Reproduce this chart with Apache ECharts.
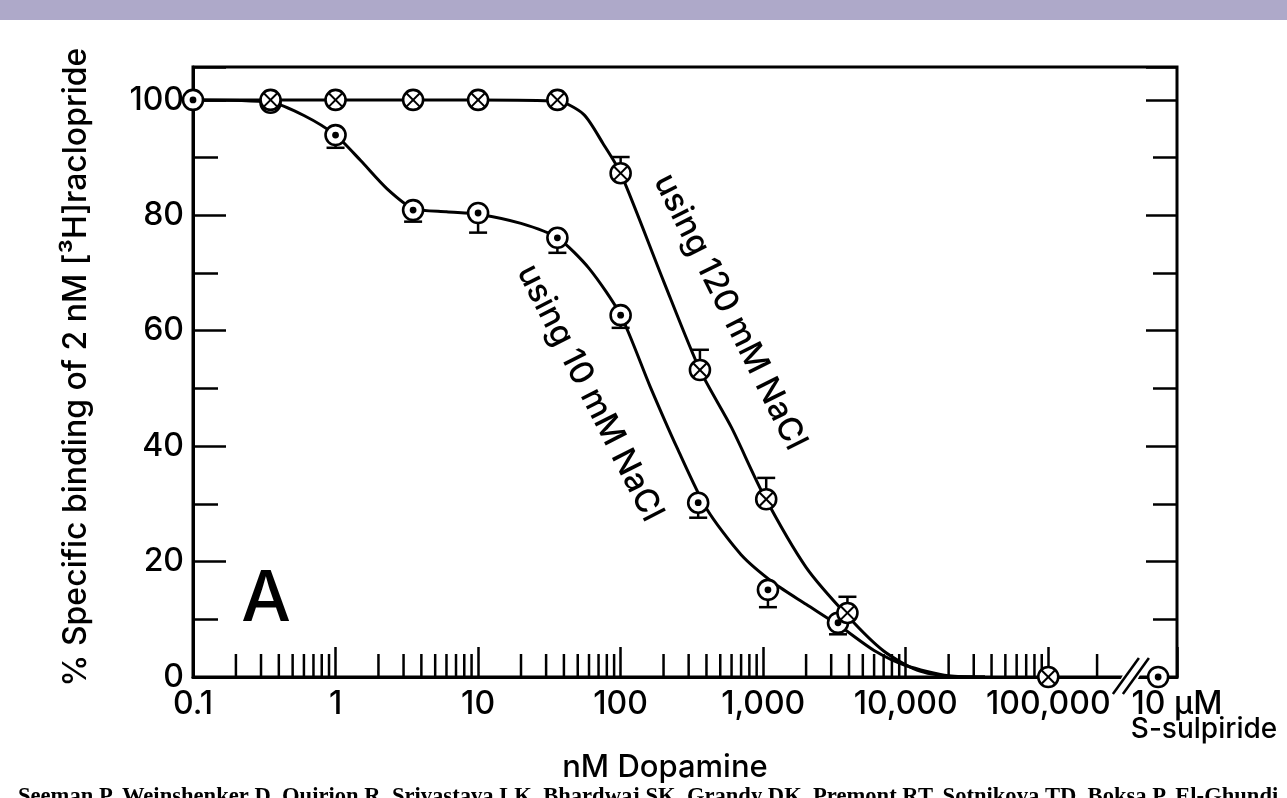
<!DOCTYPE html>
<html><head><meta charset="utf-8">
<script src="https://cdn.jsdelivr.net/npm/echarts@6/dist/echarts.min.js"></script>
<style>html,body{margin:0;padding:0;background:#fff;overflow:hidden}#c{width:1287px;height:798px}</style>
</head><body><div id="c"></div>
<script>
// ---- tick labels ----
const xTickValues = [0.1, 1, 10, 100, 1000, 10000, 100000];
const xTickLabels = ['0.1', '1', '10', '100', '1,000', '10,000', '100,000'];
const sulpirideTickLabel = '10 µM';
const yTickValues = [0, 20, 40, 60, 80, 100];
const xExtraMinorTicks = [220000];

// ---- measured points (nM dopamine, % specific binding) ----
const na120X = [0.35, 1, 3.5, 10, 36, 100, 360, 1050, 3900, 100000];
const na120Y = [100, 100, 100, 100, 100, 87.3, 53.2, 30.8, 11.1, 0];
const na120ErrUp = [0, 0, 0, 0, 0, 2.8, 3.5, 3.7, 2.8, 0];

const na10X = [0.1, 0.35, 1, 3.5, 10, 36, 100, 350, 1080, 3350];
const na10Y = [100, 99.5, 93.9, 80.9, 80.4, 76.1, 62.7, 30.2, 15.1, 9.4];
const na10ErrDown = [0, 0, 2.2, 2.0, 3.4, 2.6, 2.2, 2.6, 3.0, 2.0];

const sulpirideX = [590000];
const sulpirideY = [0];

// ---- fitted curves ----
const fit120X = [0.1, 1, 10, 36, 55, 75, 100, 200, 360, 600, 1000, 2000, 4000, 7000, 12000, 20000, 36000];
const fit120Y = [100, 100, 100, 99.8, 97.5, 92.5, 87.3, 68.6, 53.2, 43.2, 31.7, 19, 10.3, 4.5, 1.2, 0.1, 0];
const fit10X = [0.1, 0.35, 0.6, 1, 1.5, 2.3, 3.5, 6, 10, 20, 36, 60, 100, 160, 250, 400, 700, 1200, 2000, 3500, 6000, 10000, 20000, 36000];
const fit10Y = [100, 99.6, 97.3, 93.9, 89.5, 84.6, 81.2, 80.6, 80.2, 78.6, 76.1, 70.8, 62.7, 50.5, 39.6, 29.2, 21.2, 16.2, 12.6, 8.7, 4.6, 2, 0.2, 0];

const breakAt = [380000];

// ---- build ----
const FONT = 'Inter';
const FW = 500;
const xMinorTicks = [];
for (let k = -1; k <= 4; k++) for (let m = 2; m <= 9; m++) xMinorTicks.push(+(m * Math.pow(10, k)).toPrecision(3));
xExtraMinorTicks.forEach(v => xMinorTicks.push(v));

function zip(xs, ys) { return xs.map((x, i) => [x, ys[i]]); }

function markerSeries(name, xs, ys, kind) {
  return {
    type: 'custom', name, xAxisIndex: 0, yAxisIndex: 0, clip: false, z: 6,
    data: zip(xs, ys),
    renderItem(params, api) {
      const p = api.coord([api.value(0), api.value(1)]);
      const r = 10;
      const ch = [{ type: 'circle', shape: { cx: p[0], cy: p[1], r }, style: { fill: '#fff', stroke: '#000', lineWidth: 2.6 } }];
      if (kind === 'dot') {
        ch.push({ type: 'circle', shape: { cx: p[0], cy: p[1], r: 3.4 }, style: { fill: '#000' } });
      } else {
        const d = r * 0.72;
        ch.push({ type: 'line', shape: { x1: p[0] - d, y1: p[1] - d, x2: p[0] + d, y2: p[1] + d }, style: { stroke: '#000', lineWidth: 2 } });
        ch.push({ type: 'line', shape: { x1: p[0] - d, y1: p[1] + d, x2: p[0] + d, y2: p[1] - d }, style: { stroke: '#000', lineWidth: 2 } });
      }
      return { type: 'group', children: ch };
    }
  };
}

function errorSeries(xs, ys, errs, dir) {
  const data = [];
  xs.forEach((x, i) => { if (errs[i] > 0) data.push([x, ys[i], ys[i] + dir * errs[i]]); });
  return {
    type: 'custom', xAxisIndex: 0, yAxisIndex: 0, clip: false, z: 5, data,
    renderItem(params, api) {
      const a = api.coord([api.value(0), api.value(1)]);
      const b = api.coord([api.value(0), api.value(2)]);
      const w = 9;
      return { type: 'group', children: [
        { type: 'line', shape: { x1: a[0], y1: a[1], x2: b[0], y2: b[1] }, style: { stroke: '#000', lineWidth: 2.5 } },
        { type: 'line', shape: { x1: b[0] - w, y1: b[1], x2: b[0] + w, y2: b[1] }, style: { stroke: '#000', lineWidth: 2.5 } }
      ] };
    }
  };
}

function curveSeries(name, xs, ys) {
  return {
    type: 'line', name, xAxisIndex: 0, yAxisIndex: 0, data: zip(xs, ys), smooth: 0.25,
    showSymbol: false, symbol: 'none', clip: false, z: 4,
    lineStyle: { color: '#000', width: 3 }
  };
}

function yAxisDef(pos, interval, len, labels) {
  return {
    type: 'value', position: pos, min: 0, max: 105.7, interval,
    axisLine: { show: labels, lineStyle: { color: '#000', width: 3 } },
    axisTick: { show: true, inside: true, length: len, lineStyle: { color: '#000', width: 2.5 } },
    splitLine: { show: false },
    axisLabel: {
      show: labels, margin: 9, color: '#000', fontFamily: FONT, fontWeight: FW, fontSize: 32,
      formatter: v => (yTickValues.indexOf(Math.round(v * 1000) / 1000) >= 0 ? String(v) : '')
    }
  };
}

const chart = echarts.init(document.getElementById('c'));
chart.setOption({
  animation: false,
  backgroundColor: '#fff',
  grid: { left: 193, right: 110, top: 67, bottom: 121, show: true, borderColor: '#000', borderWidth: 3, backgroundColor: 'transparent' },
  xAxis: [{
    type: 'log', logBase: 10, min: 0.1, max: 800000,
    axisLine: { show: true, lineStyle: { color: '#000', width: 3 } },
    axisTick: { show: true, inside: true, length: 30, lineStyle: { color: '#000', width: 2.5 } },
    minorTick: { show: false },
    splitLine: { show: false },
    axisLabel: {
      show: true, showMinLabel: true, showMaxLabel: true, margin: 11, color: '#000', fontFamily: FONT, fontWeight: FW, fontSize: 32,
      formatter: function (v) {
        if (v > 200000) return sulpirideTickLabel;
        const lv = Math.log10(v);
        for (let i = 0; i < xTickValues.length; i++) if (Math.abs(Math.log10(xTickValues[i]) - lv) < 0.01) return xTickLabels[i];
        return '';
      }
    }
  }],
  yAxis: [
    yAxisDef('left', 20, 33, true),
    yAxisDef('left', 10, 25, false),
    yAxisDef('right', 20, 31, false),
    yAxisDef('right', 10, 24, false)
  ],
  graphic: [
    { type: 'rect', left: 0, top: 0, shape: { width: 1287, height: 20 }, style: { fill: '#aea9c9' }, z: 10 },
    { type: 'text', x: 76, y: 367, rotation: Math.PI / 2, style: { text: '% Specific binding of 2 nM [³H]raclopride', fontFamily: FONT, fontWeight: FW, fontSize: 32, fill: '#000', align: 'center', verticalAlign: 'middle' } },
    { type: 'text', x: 665, y: 768, style: { text: 'nM Dopamine', fontFamily: FONT, fontWeight: FW, fontSize: 31, fill: '#000', align: 'center', verticalAlign: 'middle' } },
    { type: 'text', x: 1204, y: 730, style: { text: 'S-sulpiride', fontFamily: FONT, fontWeight: FW, fontSize: 28, fill: '#000', align: 'center', verticalAlign: 'middle' } },
    { type: 'text', x: 266, y: 600, style: { text: 'A', fontFamily: FONT, fontWeight: FW, fontSize: 70, fill: '#000', align: 'center', verticalAlign: 'middle' } },
    { type: 'text', x: 730, y: 312, rotation: -63.5 * Math.PI / 180, style: { text: 'using 120 mM NaCl', fontFamily: FONT, fontWeight: FW, fontSize: 33, fill: '#000', align: 'center', verticalAlign: 'middle' } },
    { type: 'text', x: 590, y: 393, rotation: -63 * Math.PI / 180, style: { text: 'using 10 mM NaCl', fontFamily: FONT, fontWeight: FW, fontSize: 33, fill: '#000', align: 'center', verticalAlign: 'middle' } },
    { type: 'text', x: 18, y: 786, style: { text: 'Seeman P, Weinshenker D, Quirion R, Srivastava LK, Bhardwaj SK, Grandy DK, Premont RT, Sotnikova TD, Boksa P, El-Ghundi', fontFamily: 'Liberation Serif', fontWeight: 'bold', fontSize: 22.6, fill: '#000', align: 'left', verticalAlign: 'top' } }
  ],
  series: [
    curveSeries('using 120 mM NaCl fit', fit120X, fit120Y),
    curveSeries('using 10 mM NaCl fit', fit10X, fit10Y),
    errorSeries(na120X, na120Y, na120ErrUp, 1),
    errorSeries(na10X, na10Y, na10ErrDown, -1),
    markerSeries('using 10 mM NaCl', na10X, na10Y, 'dot'),
    markerSeries('using 120 mM NaCl', na120X, na120Y, 'cross'),
    markerSeries('S-sulpiride', sulpirideX, sulpirideY, 'dot'),
    {
      type: 'custom', name: 'minor ticks', xAxisIndex: 0, yAxisIndex: 0, clip: false, z: 3, silent: true,
      data: xMinorTicks.map(v => [v, 0]),
      renderItem(params, api) {
        const p = api.coord([api.value(0), 0]);
        return { type: 'line', shape: { x1: p[0], y1: p[1], x2: p[0], y2: p[1] - 23 }, style: { stroke: '#000', lineWidth: 2.5 } };
      }
    },
    {
      type: 'custom', name: 'axis break', xAxisIndex: 0, yAxisIndex: 0, clip: false, z: 3, silent: true,
      data: breakAt.map(v => [v, 0]),
      renderItem(params, api) {
        const p = api.coord([api.value(0), 0]);
        const mk = off => ({ type: 'line', shape: { x1: p[0] + off - 13, y1: p[1] + 17, x2: p[0] + off + 13, y2: p[1] - 19 }, style: { stroke: '#000', lineWidth: 2.5 } });
        return { type: 'group', children: [
          { type: 'polygon', shape: { points: [[p[0] - 18, p[1] + 17], [p[0] - 1, p[1] + 17], [p[0] + 18, p[1] - 19], [p[0] + 1, p[1] - 19]] }, style: { fill: '#fff' } },
          mk(-5), mk(5)
        ] };
      }
    }
  ]
});
</script>
</body></html>
